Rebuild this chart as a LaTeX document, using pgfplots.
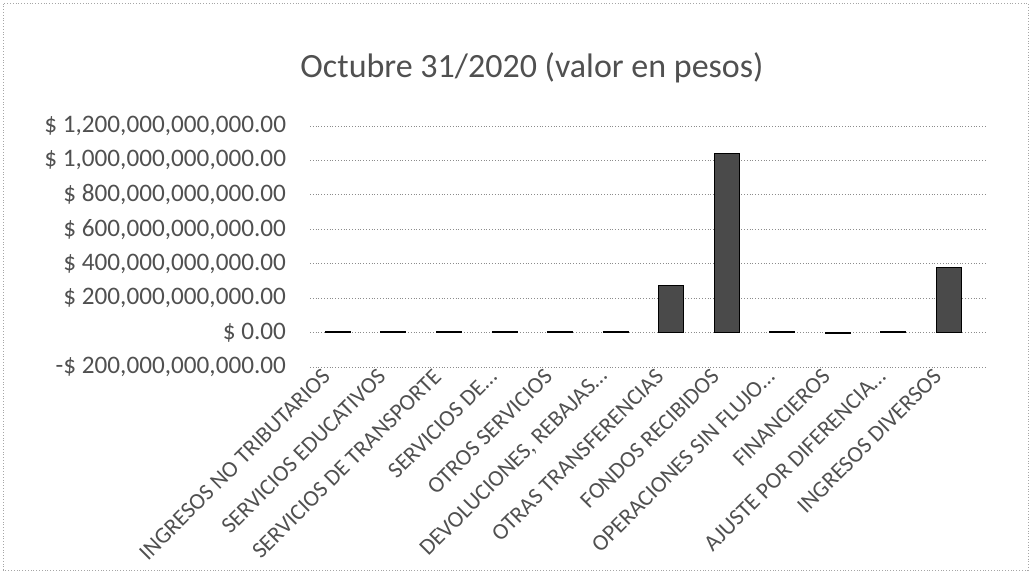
\documentclass[border=0pt]{standalone}
\usepackage{pgfplots}
\pgfplotsset{compat=1.18}
\usepackage{fontspec}
\setmainfont{Carlito}
\definecolor{txt}{HTML}{505050}
\definecolor{barfill}{HTML}{4A4A4A}
\begin{document}
\begin{tikzpicture}
\path[use as bounding box] (0,0) rectangle (515.5pt,286.5pt);
\draw[black!35, densely dotted] (1.5pt,1.5pt) rectangle (514pt,285pt);
\node[text=txt, font=\fontsize{17}{20}\selectfont] at (266pt,252.5pt) {Octubre 31/2020 (valor en pesos)};
\begin{axis}[
  at={(155pt,103pt)}, anchor=south west,
  width=337.5pt, height=120.5pt, scale only axis,
  ybar, bar width=12.5pt,
  xmin=-0.5, xmax=11.65,
  ymin=-200000000000, ymax=1200000000000,
  scaled y ticks=false,
  axis line style={draw=none},
  tick style={draw=none},
  ymajorgrids, grid style={black!45, densely dotted},
  ytick={-200000000000,0,200000000000,400000000000,600000000000,800000000000,1000000000000,1200000000000},
  yticklabels={{-\$ 200,000,000,000.00}, {\$ 0.00}, {\$ 200,000,000,000.00}, {\$ 400,000,000,000.00}, {\$ 600,000,000,000.00}, {\$ 800,000,000,000.00}, {\$ 1,000,000,000,000.00}, {\$ 1,200,000,000,000.00}},
  yticklabel style={text=txt, font=\fontsize{12.6}{14}\selectfont, xshift=-8.5pt},
  xtick=data,
  xticklabels={INGRESOS NO TRIBUTARIOS, SERVICIOS EDUCATIVOS, SERVICIOS DE TRANSPORTE, SERVICIOS DE\ldots, OTROS SERVICIOS, {DEVOLUCIONES, REBAJAS\ldots}, OTRAS TRANSFERENCIAS, FONDOS RECIBIDOS, OPERACIONES SIN FLUJO\ldots, FINANCIEROS, AJUSTE POR DIFERENCIA\ldots, INGRESOS DIVERSOS},
  xticklabel style={text=txt, font=\fontsize{11.5}{13}\selectfont, rotate=45, anchor=east, inner sep=1pt, xshift=-2pt, yshift=5pt},
]
\addplot[fill=barfill, draw=black] coordinates {
  (0,7000000000) (1,9000000000) (2,5000000000) (3,4000000000)
  (4,7000000000) (5,4000000000) (6,275000000000) (7,1040000000000)
  (8,5000000000) (9,-4000000000) (10,4000000000) (11,380000000000)
};
\end{axis}
\end{tikzpicture}
\end{document}
